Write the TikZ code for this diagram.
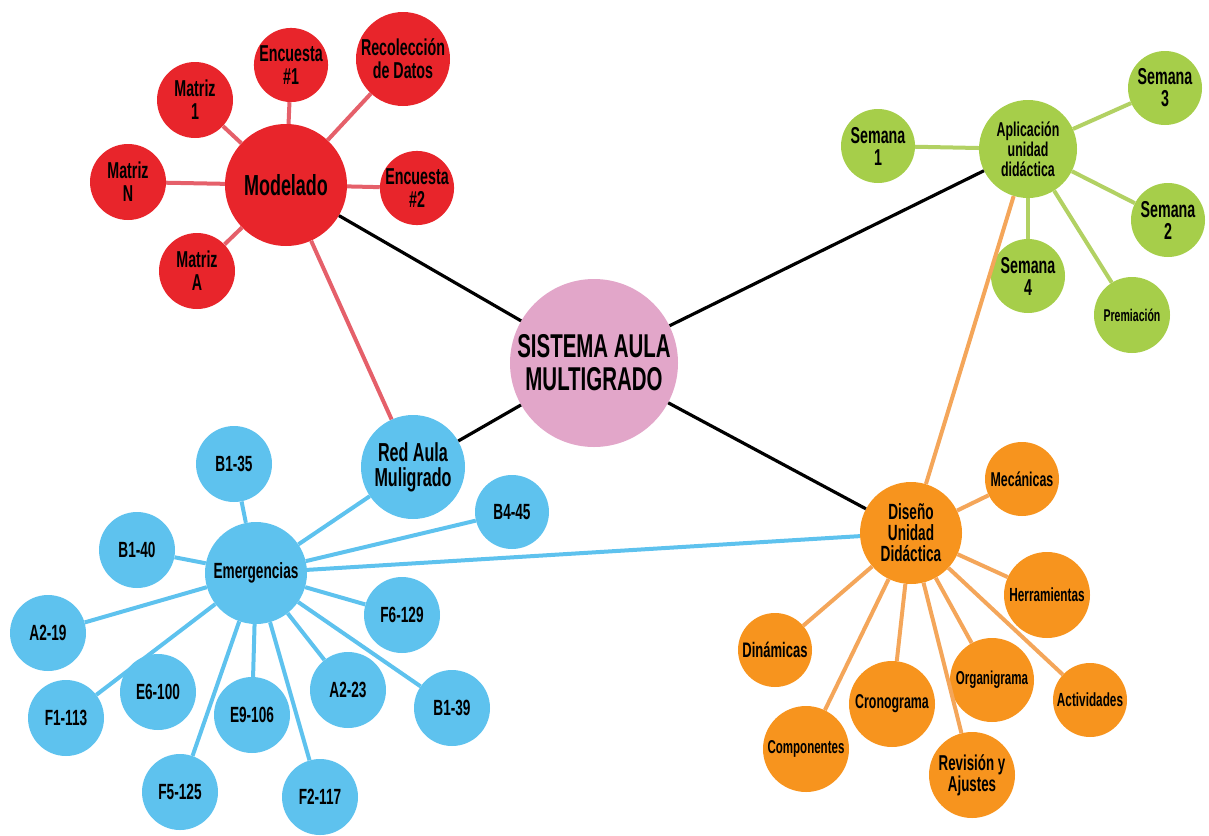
\documentclass[tikz,border=0pt]{standalone}
\usepackage{fontspec}
\setmainfont{Liberation Sans}[FakeStretch=0.62]
\definecolor{hubpink}{HTML}{E2A6C9}
\definecolor{redfill}{HTML}{E8252B}
\definecolor{redline}{HTML}{E5606A}
\definecolor{greenfill}{HTML}{A6CE4A}
\definecolor{greenline}{HTML}{B2D163}
\definecolor{bluefill}{HTML}{5EC2EE}
\definecolor{orangefill}{HTML}{F7941E}
\definecolor{orangeline}{HTML}{F4A65A}

\begin{document}
\begin{tikzpicture}[x=1pt,y=-1pt,
    bubble/.style={circle,draw=none,inner sep=0pt,align=center,text=black},
    fs/.style={font=\fontsize{#1}{#1}\selectfont\bfseries},
    redbub/.style={bubble,fill=redfill,minimum size=76pt,fs=23},
    greenbub/.style={bubble,fill=greenfill,minimum size=74pt,fs=23},
    bluebub/.style={bubble,fill=bluefill,minimum size=76pt,fs=22},
    orangebub/.style={bubble,fill=orangefill,minimum size=86pt,fs=19},
    hubline/.style={line width=3.2pt,black},
    redlink/.style={line width=4pt,redline},
    greenlink/.style={line width=4pt,greenline},
    bluelink/.style={line width=4pt,bluefill},
    orangelink/.style={line width=4pt,orangeline}]
  \useasboundingbox (0,0) rectangle (1209,835);

  % centre
  \node[bubble,fill=hubpink,minimum size=168pt,font=\fontsize{33}{33}\selectfont\bfseries]
    (sys) at (594,363) {SISTEMA AULA\\MULTIGRADO};

  % modelado group
  \node[redbub,minimum size=122pt,fs=29] (mod) at (286,185) {Modelado};
  \node[redbub,minimum size=72pt] (enc1) at (291,65) {Encuesta\\\#1};
  \node[redbub,minimum size=94pt] (rec) at (403,59) {Recolección\\de Datos};
  \node[redbub] (mat1) at (195,100) {Matriz\\1};
  \node[redbub] (matn) at (128,182) {Matriz\\N};
  \node[redbub,minimum size=74pt] (enc2) at (417,188) {Encuesta\\\#2};
  \node[redbub] (mata) at (197,271) {Matriz\\A};

  % aplicacion group
  \node[greenbub,minimum size=98pt,font=\fontsize{20}{20}\selectfont\bfseries]
    (apl) at (1028,149) {Aplicación\\unidad\\didáctica};
  \node[greenbub,font=\fontsize{23}{22}\selectfont\bfseries] (sem1) at (878,146) {Semana\\1};
  \node[greenbub,font=\fontsize{23}{22}\selectfont\bfseries] (sem3) at (1165,88) {Semana\\3};
  \node[greenbub,font=\fontsize{23}{22}\selectfont\bfseries] (sem2) at (1168,220) {Semana\\2};
  \node[greenbub,font=\fontsize{23}{22}\selectfont\bfseries] (sem4) at (1028,276) {Semana\\4};
  \node[greenbub,minimum size=76pt,fs=17] (prem) at (1132,315) {Premiación};

  % red aula group
  \node[bluebub,minimum size=104pt,font=\fontsize{26}{25}\selectfont\bfseries]
    (red) at (413,467) {Red Aula\\Muligrado};
  \node[bluebub,minimum size=102pt] (emer) at (256,573) {Emergencias};
  \node[bluebub] (b135) at (234,464) {B1-35};
  \node[bluebub] (b140) at (137,550) {B1-40};
  \node[bluebub,minimum size=74pt] (b445) at (512,512) {B4-45};
  \node[bluebub] (a219) at (48,633) {A2-19};
  \node[bluebub] (f1113) at (66,718) {F1-113};
  \node[bluebub] (e6100) at (158,692) {E6-100};
  \node[bluebub] (e9106) at (252,715) {E9-106};
  \node[bluebub] (a223) at (348,690) {A2-23};
  \node[bluebub] (f6129) at (402,615) {F6-129};
  \node[bluebub] (b139) at (452,708) {B1-39};
  \node[bluebub] (f5125) at (180,792) {F5-125};
  \node[bluebub] (f2117) at (320,797) {F2-117};

  % diseno group
  \node[orangebub,minimum size=102pt,font=\fontsize{22}{21}\selectfont\bfseries]
    (dis) at (911,533) {Diseño\\Unidad\\Didáctica};
  \node[orangebub,minimum size=74pt,fs=20] (mec) at (1022,479) {Mecánicas};
  \node[orangebub] (her) at (1047,595) {Herramientas};
  \node[orangebub,minimum size=74pt,fs=21] (din) at (775,650) {Dinámicas};
  \node[orangebub,fs=18.6] (com) at (806,749) {Componentes};
  \node[orangebub,fs=20] (cro) at (892,704) {Cronograma};
  \node[orangebub,minimum size=84pt,fs=18.7] (org) at (992,680) {Organigrama};
  \node[orangebub,font=\fontsize{21.5}{21}\selectfont\bfseries] (rev) at (972,775) {Revisión y\\Ajustes};
  \node[orangebub,minimum size=74pt] (act) at (1090,700) {Actividades};

  % links
  \foreach \a in {mod,apl,red,dis} \draw[hubline] (sys) -- (\a);
  \foreach \a in {enc1,rec,mat1,matn,enc2,mata,red} \draw[redlink] (mod) -- (\a);
  \foreach \a in {sem1,sem2,sem3,sem4,prem} \draw[greenlink] (apl) -- (\a);
  \draw[orangelink] (apl) -- (dis);
  \foreach \a in {mec,her,din,com,cro,org,rev,act} \draw[orangelink] (dis) -- (\a);
  \foreach \a in {red,b445,b135,b140,a219,f1113,f5125,e9106,f2117,a223,b139,f6129,dis}
    \draw[bluelink] (emer) -- (\a);
\end{tikzpicture}
\end{document}
